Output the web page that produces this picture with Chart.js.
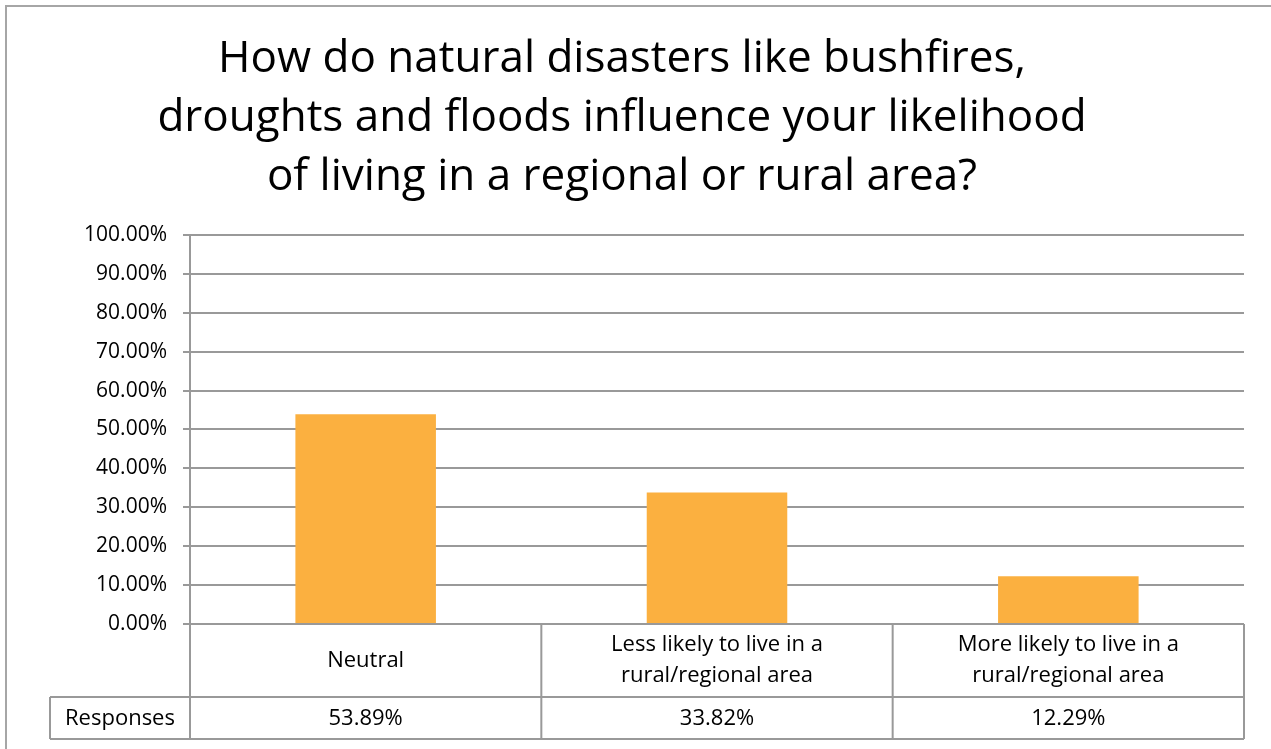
<!DOCTYPE html>
<html>
<head>
<meta charset="utf-8">
<script src="https://cdn.jsdelivr.net/npm/chart.js@4"></script>
<style>
  html, body { margin: 0; padding: 0; background: #fff; overflow: hidden; }
  #wrap { position: relative; width: 1271px; height: 749px; }
</style>
</head>
<body>
<div id="wrap"><canvas id="chart"></canvas></div>
<script>
// data
const titleLines = [
  'How do natural disasters like bushfires,',
  'droughts and floods influence your likelihood',
  'of living in a regional or rural area?'
];
const categories = [
  ['Neutral'],
  ['Less likely to live in a', 'rural/regional area'],
  ['More likely to live in a', 'rural/regional area']
];
const seriesName = 'Responses';
const responses = [53.89, 33.82, 12.29];
const yTicks = [0, 10, 20, 30, 40, 50, 60, 70, 80, 90, 100];

const FONT = '"Open Sans", sans-serif';
const LINE = '#999999';
const BAR = '#FBB040';

// draws the outer frame and the data table under the plot
const tablePlugin = {
  id: 'dataTable',
  beforeDraw(chart) {
    const ctx = chart.ctx;
    ctx.save();
    ctx.fillStyle = '#fff';
    ctx.fillRect(0, 0, chart.width, chart.height);
    ctx.strokeStyle = '#a6a6a6';
    ctx.lineWidth = 2;
    ctx.strokeRect(6, 6, chart.width + 20, chart.height + 20);
    ctx.restore();
  },
  afterDraw(chart) {
    const ctx = chart.ctx;
    const area = chart.chartArea;
    const x = chart.scales.x;
    const n = categories.length;
    const band = (area.right - area.left) / n;
    const row1 = area.bottom + 73;
    const row2 = row1 + 42;
    const labelLeft = 50;

    ctx.save();
    ctx.strokeStyle = LINE;
    ctx.lineWidth = 2;
    ctx.beginPath();
    // y axis line carried down through the table
    ctx.moveTo(area.left, area.top);
    ctx.lineTo(area.left, row2);
    for (let i = 1; i <= n; i++) {
      const bx = area.left + band * i;
      ctx.moveTo(bx, area.bottom);
      ctx.lineTo(bx, row2);
    }
    ctx.moveTo(labelLeft, row1);
    ctx.lineTo(area.right, row1);
    ctx.moveTo(labelLeft, row2);
    ctx.lineTo(area.right, row2);
    ctx.moveTo(labelLeft, row1);
    ctx.lineTo(labelLeft, row2);
    ctx.stroke();

    ctx.fillStyle = '#000';
    ctx.font = '22px ' + FONT;
    ctx.textAlign = 'center';
    ctx.textBaseline = 'middle';
    categories.forEach((lines, i) => {
      const cx = x.getPixelForValue(i);
      const mid = (area.bottom + row1) / 2;
      const lh = 31;
      lines.forEach((t, j) => {
        ctx.fillText(t, cx, mid + (j - (lines.length - 1) / 2) * lh);
      });
      ctx.fillText(responses[i].toFixed(2) + '%', cx, (row1 + row2) / 2 + 1);
    });
    ctx.fillText(seriesName, (labelLeft + area.left) / 2, (row1 + row2) / 2 + 1);
    ctx.restore();
  }
};

new Chart(document.getElementById('chart'), {
  type: 'bar',
  data: {
    labels: categories.map(c => c.join(' ')),
    datasets: [{
      label: seriesName,
      data: responses,
      backgroundColor: BAR,
      borderWidth: 0,
      categoryPercentage: 0.4,
      barPercentage: 1
    }]
  },
  options: {
    responsive: true,
    maintainAspectRatio: false,
    animation: false,
    layout: { padding: { top: 0, right: 27, bottom: 125, left: 0 } },
    plugins: {
      legend: { display: false },
      tooltip: { enabled: false },
      title: {
        display: true,
        text: titleLines,
        color: '#000',
        font: { family: FONT, size: 44, weight: 'normal', lineHeight: 1.34 },
        padding: { top: 30, bottom: 28 }
      }
    },
    scales: {
      x: { display: false },
      y: {
        min: 0,
        max: 100,
        afterBuildTicks: axis => { axis.ticks = yTicks.map(v => ({ value: v })); },
        afterFit: axis => { axis.width = 190; },
        border: { display: false },
        grid: { color: LINE, lineWidth: 2, tickLength: 7 },
        ticks: {
          color: '#000',
          padding: 16,
          font: { family: FONT, size: 21 },
          callback: v => v.toFixed(2) + '%'
        }
      }
    }
  },
  plugins: [tablePlugin]
});
</script>
</body>
</html>
